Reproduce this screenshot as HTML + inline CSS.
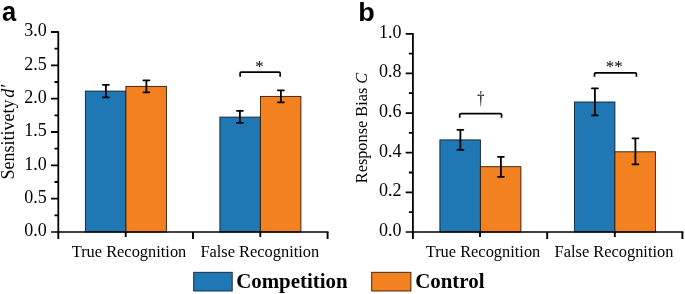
<!DOCTYPE html>
<html><head><meta charset="utf-8"><title>Figure</title>
<style>
html,body{margin:0;padding:0;background:#fff;}
svg{display:block;}
text{font-family:"Liberation Serif",serif;fill:#000;}
.lab{font-family:"Liberation Sans",sans-serif;font-weight:bold;font-size:26px;fill:#000;}
.tk{font-size:18px;}
.ax{stroke:#000;stroke-width:1.8;fill:none;}
.xt{stroke:#000;stroke-width:1.9;fill:none;}
.eb{stroke:#000;stroke-width:1.8;fill:none;stroke-linejoin:round;stroke-linecap:round;}
.br{stroke:#000;stroke-width:1.7;fill:none;stroke-linejoin:round;stroke-linecap:butt;}
.bl{fill:#1f77b4;stroke:#10202e;stroke-width:0.9;}
.or{fill:#f4811f;stroke:#2e1a08;stroke-width:0.9;}
</style></head><body>
<svg width="685" height="294" viewBox="0 0 685 294">
<rect width="685" height="294" fill="#fff"/>
<!-- panel a -->
<text class="lab" transform="translate(2,20.6) scale(0.98,1.06)">a</text>
<g id="pa">
<rect class="bl" x="85.4" y="91.1" width="40.5" height="140.9"/>
<rect class="or" x="125.9" y="86.4" width="40.5" height="145.6"/>
<rect class="bl" x="219.9" y="117.1" width="40.5" height="114.9"/>
<rect class="or" x="260.4" y="96.4" width="40.5" height="135.6"/>
<path class="ax" d="M58.3 31.4V232.8"/><path class="ax" style="stroke-width:1.65" d="M51 232H328.5"/>
<path class="xt" d="M58.3 232v7M125.7 232v4.9M193 232v7M260.3 232v4.9M327.6 232v7"/>
<path class="ax" d="M51 32h7.5M51 65.3h7.5M51 98.7h7.5M51 132h7.5M51 165.3h7.5M51 198.7h7.5M54.5 48.7h4M54.5 82h4M54.5 115.3h4M54.5 148.7h4M54.5 182h4M54.5 215.3h4"/>
<path class="eb" transform="translate(0.4,0.3)" d="M105.5 84.5v12.5M102.5 84.5h6M102.5 97h6M146 80v12M143 80h6M143 92h6M239.5 110.5v12M236.5 110.5h6M236.5 122.5h6M280.5 90v12M277.5 90h6M277.5 102h6"/>
<path class="br" d="M240.1 76.7v-3.4q0-1.2 1.2-1.2h37.7q1.2 0 1.2 1.2v3.4"/>
<text class="tk" x="46.8" y="36.2" text-anchor="end">3.0</text>
<text class="tk" x="46.8" y="69.5" text-anchor="end">2.5</text>
<text class="tk" x="46.8" y="102.9" text-anchor="end">2.0</text>
<text class="tk" x="46.8" y="136.2" text-anchor="end">1.5</text>
<text class="tk" x="46.8" y="169.5" text-anchor="end">1.0</text>
<text class="tk" x="46.8" y="202.9" text-anchor="end">0.5</text>
<text class="tk" x="46.8" y="236.2" text-anchor="end">0.0</text>
<text x="259.6" y="72.3" text-anchor="middle" font-size="17">*</text>
<text x="129" y="257.1" text-anchor="middle" font-size="16.4">True Recognition</text>
<text x="259.8" y="257.1" text-anchor="middle" font-size="16.4">False Recognition</text>
<text transform="translate(14.4,132.2) rotate(-90)" text-anchor="middle" font-size="18">Sensitivety<tspan font-style="italic" dx="1.8">d′</tspan></text>
</g>
<!-- panel b -->
<text class="lab" transform="translate(358.2,20.5) scale(1.04,1.015)">b</text>
<g id="pb">
<rect class="bl" x="439.9" y="139.9" width="40.5" height="92.1"/>
<rect class="or" x="480.4" y="166.7" width="40.5" height="65.3"/>
<rect class="bl" x="574.4" y="102.0" width="40.5" height="130.0"/>
<rect class="or" x="614.9" y="151.8" width="40.5" height="80.2"/>
<path class="ax" d="M412.9 32.9V232.8"/><path class="ax" style="stroke-width:1.65" d="M405.7 232H683.4"/>
<path class="xt" d="M412.9 232v7M480 232v4.9M547.2 232v7M614.8 232v4.9M682.4 232v7"/>
<path class="ax" d="M405.7 33.8h7.2M405.7 73.4h7.2M405.7 113.1h7.2M405.7 152.7h7.2M405.7 192.4h7.2M408.9 53.6h4M408.9 93.2h4M408.9 132.9h4M408.9 172.5h4M408.9 212.2h4"/>
<path class="eb" transform="translate(0.4,0.3)" d="M460 129.5v20M457 129.5h6M457 149.5h6M500.5 156.5v20M497.5 156.5h6M497.5 176.5h6M594.5 88v27M591.5 88h6M591.5 115h6M635 138v26M632 138h6M632 164h6"/>
<path class="br" d="M459.7 117.7v-2.9q0-1.2 1.2-1.2h39.5q1.2 0 1.2 1.2v2.9M594.5 76.7v-2.7q0-1.2 1.2-1.2h39.5q1.2 0 1.2 1.2v2.7"/>
<text class="tk" x="401.4" y="37.8" text-anchor="end">1.0</text>
<text class="tk" x="401.4" y="77.4" text-anchor="end">0.8</text>
<text class="tk" x="401.4" y="117.1" text-anchor="end">0.6</text>
<text class="tk" x="401.4" y="156.7" text-anchor="end">0.4</text>
<text class="tk" x="401.4" y="196.4" text-anchor="end">0.2</text>
<text class="tk" x="401.4" y="236.0" text-anchor="end">0.0</text>
<text transform="translate(480.9,103.6) scale(0.95,1.28)" text-anchor="middle" font-size="15">†</text>
<text x="614.3" y="72.3" text-anchor="middle" font-size="17">**</text>
<text x="483" y="257.1" text-anchor="middle" font-size="16.4">True Recognition</text>
<text x="614" y="257.1" text-anchor="middle" font-size="16.4">False Recognition</text>
<text transform="translate(367.3,128) rotate(-90)" text-anchor="middle" font-size="16.3">Response Bias <tspan font-style="italic">C</tspan></text>
</g>
<!-- legend -->
<rect class="bl" x="193.7" y="272.3" width="38.5" height="18.7"/>
<text x="236.2" y="288.3" font-size="20.9" font-weight="bold">Competition</text>
<rect class="or" x="371.7" y="272.3" width="39.2" height="18.7"/>
<text x="415.2" y="288.3" font-size="20.9" font-weight="bold">Control</text>
</svg>
</body></html>
